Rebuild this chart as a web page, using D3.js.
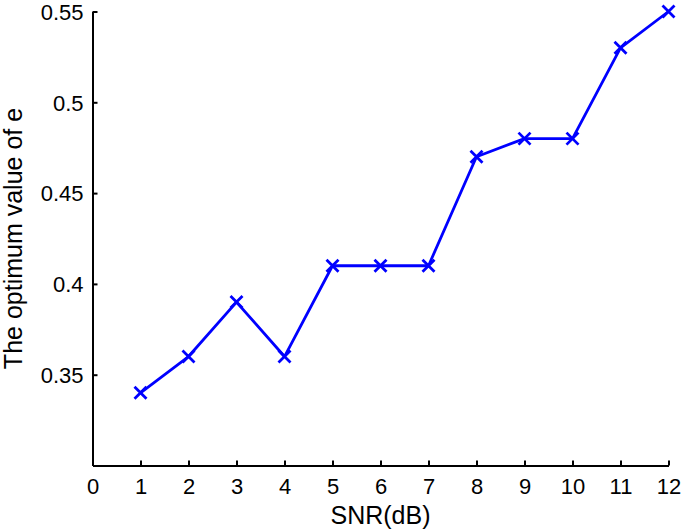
<!DOCTYPE html>
<html><head><meta charset="utf-8">
<script src="https://cdn.jsdelivr.net/npm/d3@7"></script>
<style>body{margin:0;background:#fff}text{font-family:"Liberation Sans",Arial,Helvetica,sans-serif}</style>
</head><body><svg id="c" width="685" height="529"></svg>
<script>
const snr = [1,2,3,4,5,6,7,8,9,10,11,12];
const optE = [0.34,0.36,0.39,0.36,0.41,0.41,0.41,0.47,0.48,0.48,0.53,0.55];
const xTicks = [0,1,2,3,4,5,6,7,8,9,10,11,12];
const yTicks = [0.35,0.4,0.45,0.5,0.55];
const xLabel = "SNR(dB)";
const yLabel = "The optimum value of e";

const svg = d3.select("#c");
const L=92.5, R=668.5, T=11.5, B=465.5;
const x = d3.scaleLinear().domain([0,12]).range([L,R]);
const y = d3.scaleLinear().domain([0.3,0.55]).range([B,T]);
const fs = 22, lfs = 25;

const gx = svg.append("g").attr("transform",`translate(0,${B})`)
  .call(d3.axisBottom(x).tickValues(xTicks).tickFormat(d3.format("d")).tickSizeInner(-5).tickSizeOuter(0).tickPadding(13));
const gy = svg.append("g").attr("transform",`translate(${L},0)`)
  .call(d3.axisLeft(y).tickValues(yTicks).tickFormat(d=>String(d)).tickSizeInner(-5).tickSizeOuter(0).tickPadding(9));
[gx,gy].forEach(g=>{
  g.select(".domain").attr("stroke","#000").attr("stroke-width",2);
  g.selectAll(".tick line").attr("stroke","#000").attr("stroke-width",2);
  g.selectAll(".tick text").attr("fill","#000").style("font-size",fs+"px").style("font-family",'"Liberation Sans",Arial,sans-serif');
});
gx.selectAll(".tick text").attr("dy","0.71em");
gy.selectAll(".tick text").attr("dy","0.35em");

const pts = snr.map((s,i)=>[s,optE[i]]);
svg.append("path").datum(pts)
  .attr("d", d3.line().x(d=>x(d[0])).y(d=>y(d[1])))
  .attr("fill","none").attr("stroke","#0000ff").attr("stroke-width",2.8).attr("stroke-linejoin","round");
const m=6;
svg.append("g").selectAll("path.mk").data(pts).join("path")
  .attr("d",d=>{const cx=x(d[0]),cy=y(d[1]);return `M${cx-m},${cy-m}L${cx+m},${cy+m}M${cx-m},${cy+m}L${cx+m},${cy-m}`;})
  .attr("stroke","#0000ff").attr("stroke-width",2.8).attr("fill","none");

svg.append("text").attr("x",(L+R)/2).attr("y",524).attr("text-anchor","middle")
  .style("font-size",lfs+"px").text(xLabel);
svg.append("text").attr("transform",`translate(22,${(T+B)/2}) rotate(-90)`).attr("text-anchor","middle")
  .style("font-size",lfs+"px").text(yLabel);
</script></body></html>
